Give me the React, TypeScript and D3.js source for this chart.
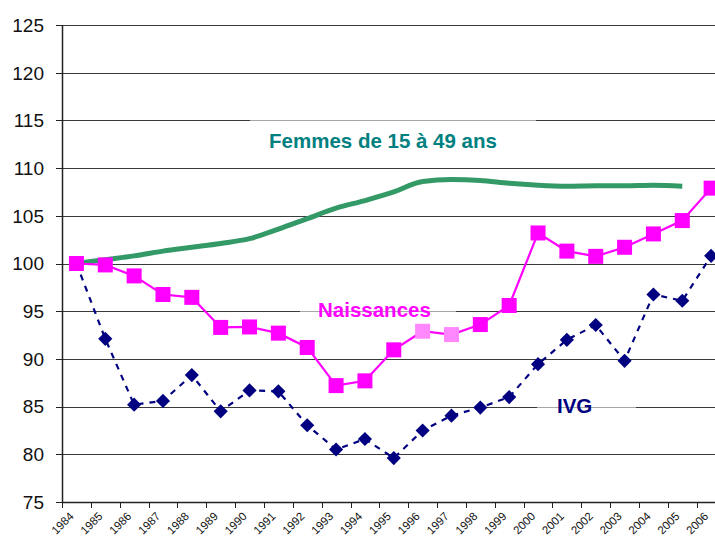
import React, { useEffect, useRef } from 'react';
import * as d3 from 'd3';

const years = ['1984', '1985', '1986', '1987', '1988', '1989', '1990', '1991', '1992', '1993', '1994', '1995',
  '1996', '1997', '1998', '1999', '2000', '2001', '2002', '2003', '2004', '2005', '2006'];

// indice base 100 en 1984
const femmes = [100, 100.4, 100.8, 101.3, 101.7, 102.1, 102.6, 103.6, 104.7, 105.8, 106.6, 107.5,
  108.6, 108.8, 108.7, 108.4, 108.2, 108.1, 108.15, 108.15, 108.2, 108.1];
const naissances = [100, 99.85, 98.7, 96.75, 96.45, 93.3, 93.35, 92.7, 91.2, 87.2, 87.7, 90.95,
  92.9, 92.55, 93.6, 95.6, 103.2, 101.3, 100.75, 101.7, 103.1, 104.5, 107.9];
const ivg = [100, 92.1, 85.2, 85.6, 88.3, 84.5, 86.7, 86.6, 83.05, 80.5, 81.6, 79.6,
  82.5, 84.05, 84.9, 86.0, 89.45, 92.0, 93.55, 89.8, 96.75, 96.1, 100.8];
const fadedYears = ['1996', '1997'];

const yTicks = [75, 80, 85, 90, 95, 100, 105, 110, 115, 120, 125];

const W = 715;
const H = 539;

const Chart = () => {
  const svgRef = useRef<SVGSVGElement>(null);

  useEffect(() => {
    const svg = d3.select(svgRef.current);
    svg.selectAll('*').remove();

    const left = 62;
    const bottom = 502;
    const top = 25;

    const x = d3.scaleBand().domain(years).range([left, left + 23 * 28.85]).padding(0);
    const cx = (yr: string) => (x(yr) as number) + x.bandwidth() / 2;
    const y = d3.scaleLinear().domain([75, 125]).range([bottom, top]);

    // gridlines
    svg.append('g')
      .selectAll('line')
      .data(yTicks.slice(1))
      .join('line')
        .attr('x1', left).attr('x2', W)
        .attr('y1', d => Math.round(y(d)) + 0.5)
        .attr('y2', d => Math.round(y(d)) + 0.5)
        .attr('stroke', '#3a3a3a')
        .attr('stroke-width', 1);

    // label boxes fade the gridlines a bit
    const boxes = [
      { x0: 250, x1: 536, y0: 112, y1: 158 },
      { x0: 300, x1: 456, y0: 296, y1: 324 },
      { x0: 537, x1: 636, y0: 392, y1: 420 },
    ];
    svg.append('g')
      .selectAll('rect')
      .data(boxes)
      .join('rect')
        .attr('x', d => d.x0).attr('y', d => d.y0)
        .attr('width', d => d.x1 - d.x0).attr('height', d => d.y1 - d.y0)
        .attr('fill', 'white').attr('opacity', 0.55);

    // axes
    svg.append('line')
      .attr('x1', left + 0.5).attr('x2', left + 0.5)
      .attr('y1', top).attr('y2', bottom + 1)
      .attr('stroke', '#222').attr('stroke-width', 1.5);
    svg.append('line')
      .attr('x1', left).attr('x2', W)
      .attr('y1', bottom + 0.5).attr('y2', bottom + 0.5)
      .attr('stroke', '#222').attr('stroke-width', 1.5);

    svg.append('g')
      .selectAll('line')
      .data(yTicks)
      .join('line')
        .attr('x1', left - 6).attr('x2', left)
        .attr('y1', d => Math.round(y(d)) + 0.5)
        .attr('y2', d => Math.round(y(d)) + 0.5)
        .attr('stroke', '#222');

    svg.append('g')
      .selectAll('text')
      .data(yTicks)
      .join('text')
        .attr('x', 44)
        .attr('y', d => y(d))
        .attr('dy', '0.36em')
        .attr('text-anchor', 'end')
        .attr('font-family', 'Arial, "Liberation Sans", sans-serif')
        .attr('font-size', 19)
        .attr('fill', '#111')
        .text(d => d);

    svg.append('g')
      .selectAll('line')
      .data(years)
      .join('line')
        .attr('x1', d => Math.round(x(d) as number) + 0.5)
        .attr('x2', d => Math.round(x(d) as number) + 0.5)
        .attr('y1', bottom).attr('y2', bottom + 6)
        .attr('stroke', '#222');

    svg.append('g')
      .selectAll('text')
      .data(years)
      .join('text')
        .attr('transform', d => `translate(${cx(d) - 2},${bottom + 15}) rotate(-45)`)
        .attr('text-anchor', 'end')
        .attr('font-family', 'Arial, "Liberation Sans", sans-serif')
        .attr('font-size', 11.5)
        .attr('fill', '#111')
        .text(d => d);

    // femmes de 15 à 49 ans
    const lineF = d3.line<number>()
      .x((d, i) => cx(years[i]))
      .y(d => y(d))
      .curve(d3.curveMonotoneX);
    svg.append('path')
      .datum(femmes)
      .attr('d', lineF)
      .attr('fill', 'none')
      .attr('stroke', '#339966')
      .attr('stroke-width', 5)
      .attr('stroke-linejoin', 'round');

    // IVG
    const line = d3.line<number>()
      .x((d, i) => cx(years[i]))
      .y(d => y(d));
    svg.append('path')
      .datum(ivg)
      .attr('d', line)
      .attr('fill', 'none')
      .attr('stroke', '#000080')
      .attr('stroke-width', 2.2)
      .attr('stroke-dasharray', '6,6');
    svg.append('g')
      .selectAll('rect')
      .data(ivg)
      .join('rect')
        .attr('x', -5).attr('y', -5)
        .attr('width', 10).attr('height', 10)
        .attr('transform', (d, i) => `translate(${cx(years[i])},${y(d)}) rotate(45)`)
        .attr('fill', '#000080');

    // naissances
    svg.append('path')
      .datum(naissances)
      .attr('d', line)
      .attr('fill', 'none')
      .attr('stroke', '#ff00ff')
      .attr('stroke-width', 2.2);
    svg.append('g')
      .selectAll('rect')
      .data(naissances)
      .join('rect')
        .attr('x', (d, i) => cx(years[i]) - 7.5)
        .attr('y', d => y(d) - 7.5)
        .attr('width', 15).attr('height', 15)
        .attr('fill', (d, i) => fadedYears.includes(years[i]) ? '#ff88ff' : '#ff00ff');

    // labels
    const labels = [
      { text: 'Femmes de 15 à 49 ans', x: 269, y: 148, color: '#008080' },
      { text: 'Naissances', x: 318, y: 317, color: '#ff00ff' },
      { text: 'IVG', x: 557, y: 413, color: '#000080' },
    ];
    svg.append('g')
      .selectAll('text')
      .data(labels)
      .join('text')
        .attr('x', d => d.x).attr('y', d => d.y)
        .attr('font-family', 'Arial, "Liberation Sans", sans-serif')
        .attr('font-weight', 'bold')
        .attr('font-size', 20.5)
        .attr('fill', d => d.color)
        .text(d => d.text);
  }, []);

  return <svg ref={svgRef} width={W} height={H} style={{ position: 'absolute', left: 0, top: 0, background: 'white' }}></svg>;
};

export default function App() {
  return <Chart />;
}
